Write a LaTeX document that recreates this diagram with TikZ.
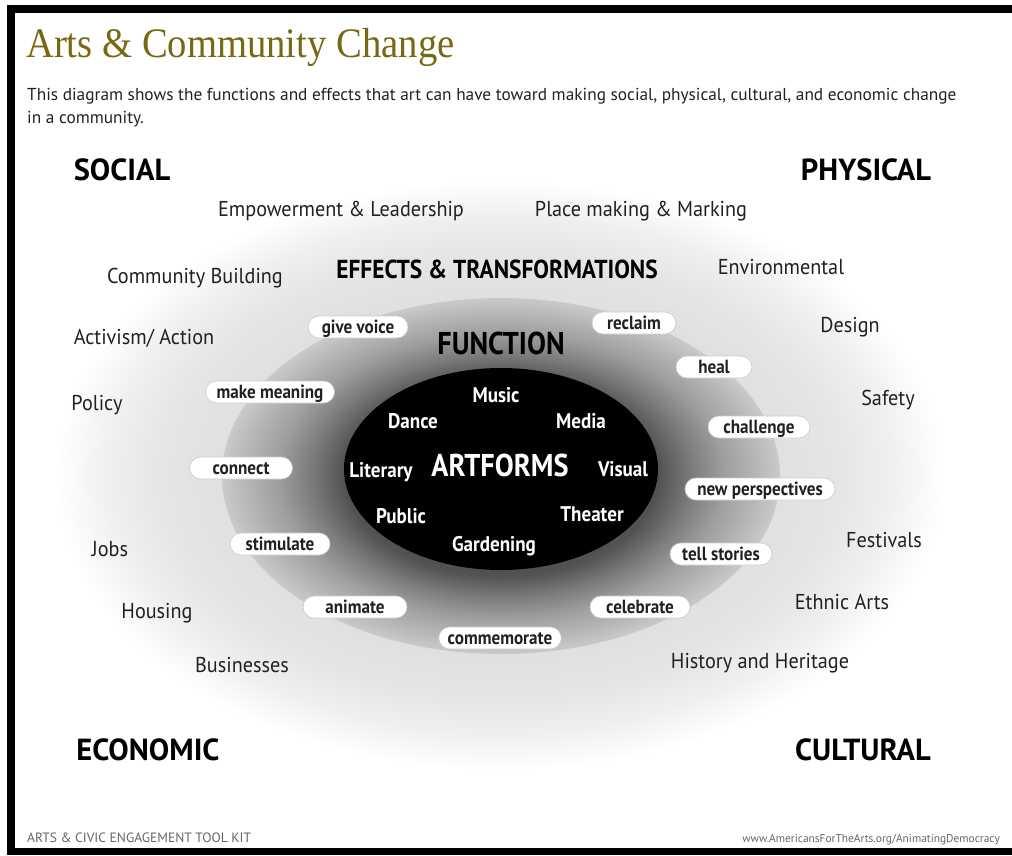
\documentclass[tikz,border=0pt]{standalone}
\usepackage{fontspec}
\setmainfont{PT Sans}
\newfontfamily\titlefont[FakeStretch=0.92]{Liberation Serif}
\newfontfamily\creg[FakeStretch=0.94]{PT Sans}
\newfontfamily\cbold[FakeStretch=0.9]{PT Sans}
\definecolor{titlecol}{RGB}{120,104,18}
\definecolor{txt}{gray}{0.13}
\definecolor{foot}{gray}{0.40}
\definecolor{pilledge}{gray}{0.80}
\definecolor{hA}{gray}{0.88}
\definecolor{hB}{gray}{0.90}
\definecolor{hC}{gray}{0.94}
\definecolor{rA}{gray}{0.30}
\definecolor{rB}{gray}{0.32}
\definecolor{rC}{gray}{0.48}
\definecolor{rD}{gray}{0.62}
\definecolor{rE}{gray}{0.72}
\definecolor{rF}{gray}{0.79}
\pgfdeclareradialshading{halo}{\pgfpointorigin}{color(0bp)=(hA); color(15.6bp)=(hA); color(19bp)=(hB); color(22bp)=(hC); color(25bp)=(white); color(50bp)=(white)}
\pgfdeclareradialshading{ring}{\pgfpointorigin}{color(0bp)=(rA); color(14bp)=(rB); color(17bp)=(rC); color(20bp)=(rD); color(23bp)=(rE); color(25bp)=(rF); color(50bp)=(rF)}
\tikzset{
  outeritem/.style={inner sep=0pt, text height=15pt, text depth=0pt, text=txt, font=\creg\fontsize{21.5}{21.5}\selectfont},
  cathead/.style={inner sep=0pt, text height=21.3pt, text depth=0pt, text=black, font=\bfseries\fontsize{30.5}{30.5}\selectfont},
  zonehead/.style={inner sep=0pt, text height=18.4pt, text depth=0pt, text=black, font=\cbold\bfseries\fontsize{26}{26}\selectfont},
  art/.style={inner sep=0pt, text height=14.8pt, text depth=0pt, text=white, font=\cbold\bfseries\fontsize{21.2}{21.2}\selectfont},
  pill/.style={fill=white, draw=pilledge, line width=0.7pt, rounded corners=11pt, minimum height=22pt, inner xsep=9pt, inner ysep=0pt,
    text height=13.3pt, text depth=0pt, text=txt, font=\cbold\bfseries\fontsize{19}{19}\selectfont},
  footer/.style={inner sep=0pt, text=foot}
}
\begin{document}
\begin{tikzpicture}[x=1pt,y=-1pt]
\useasboundingbox (0,0) rectangle (1012,855);
\fill[white] (0,0) rectangle (1012,855);
% gradient zones
\path[shading=halo] (500,475) ellipse [x radius=445pt, y radius=295pt];
\path[shading=ring] (501,476) ellipse [x radius=279pt, y radius=178pt];
\fill[black] (501,469) ellipse [x radius=157pt, y radius=101pt];
% frame
\fill[black] (7,5) rectangle (1012,13);
\fill[black] (7,5) rectangle (15,855);
\fill[black] (7,848) rectangle (1012,855);
% title and intro
\node[anchor=base west, inner sep=0pt, text=titlecol, font=\titlefont\fontsize{42}{42}\selectfont] (title) at (26,57) {Arts \& Community Change};
\node[anchor=base west, inner sep=0pt, text=txt, font=\fontsize{17.3}{17.3}\selectfont] (intro1) at (27,100) {This diagram shows the functions and effects that art can have toward making social, physical, cultural, and economic change};
\node[anchor=base west, inner sep=0pt, text=txt, font=\fontsize{17.3}{17.3}\selectfont] (intro2) at (27,123) {in a community.};
% category headings
\node[cathead] (social) at (122,170) {SOCIAL};
\node[cathead] (physical) at (866,170) {PHYSICAL};
\node[cathead] (economic) at (148,750) {ECONOMIC};
\node[cathead] (cultural) at (863,750) {CULTURAL};
% effects
\node[outeritem] (empower) at (341,209) {Empowerment \& Leadership};
\node[outeritem] (place) at (641,209) {Place making \& Marking};
\node[outeritem] (community) at (195,276) {Community Building};
\node[zonehead] (effects) at (497,269) {EFFECTS \& TRANSFORMATIONS};
\node[outeritem] (environ) at (781,267) {Environmental};
\node[outeritem] (activism) at (144,337) {Activism/ Action};
\node[outeritem] (design) at (850,325) {Design};
\node[outeritem] (policy) at (97,403) {Policy};
\node[outeritem] (safety) at (888,398) {Safety};
\node[outeritem] (jobs) at (110,549) {Jobs};
\node[outeritem] (festivals) at (884,540) {Festivals};
\node[outeritem] (housing) at (157,611) {Housing};
\node[outeritem] (ethnic) at (842,602) {Ethnic Arts};
\node[outeritem] (business) at (242,665) {Businesses};
\node[outeritem] (history) at (760,661) {History and Heritage};
% function
\node[zonehead, text height=22pt, font=\cbold\bfseries\fontsize{31.5}{31.5}\selectfont] (function) at (501,343) {FUNCTION};
\node[pill, minimum width=100pt] (givevoice) at (358,327) {give voice};
\node[pill, minimum width=84pt] (reclaim) at (634,323) {reclaim};
\node[pill, minimum width=76pt] (heal) at (714,367) {heal};
\node[pill, minimum width=129pt] (meaning) at (270,392) {make meaning};
\node[pill, minimum width=102pt] (challenge) at (759,427) {challenge};
\node[pill, minimum width=103pt] (connect) at (241,468) {connect};
\node[pill, minimum width=150pt] (newpersp) at (760,489) {new perspectives};
\node[pill, minimum width=100pt] (stimulate) at (280,544) {stimulate};
\node[pill, minimum width=102pt] (tellstories) at (721,554) {tell stories};
\node[pill, minimum width=104pt] (animate) at (355,607) {animate};
\node[pill, minimum width=100pt] (celebrate) at (640,607) {celebrate};
\node[pill, minimum width=120pt] (commemorate) at (500,638) {commemorate};
% artforms
\node[art, text height=22pt, font=\cbold\bfseries\fontsize{31.5}{31.5}\selectfont] (artforms) at (500,465) {ARTFORMS};
\node[art] (music) at (496,395) {Music};
\node[art] (dance) at (413,421) {Dance};
\node[art] (media) at (581,421) {Media};
\node[art] (literary) at (381,470) {Literary};
\node[art] (visual) at (623,469) {Visual};
\node[art] (public) at (401,516) {Public};
\node[art] (theater) at (592,514) {Theater};
\node[art] (gardening) at (494,544) {Gardening};
% footer
\node[footer, anchor=base west, font=\fontsize{13.5}{13.5}\selectfont] (toolkit) at (27,842) {ARTS \& CIVIC ENGAGEMENT TOOL KIT};
\node[footer, anchor=base east, font=\fontsize{11.4}{11.4}\selectfont] (url) at (1000,842) {www.AmericansForTheArts.org/AnimatingDemocracy};
\end{tikzpicture}
\end{document}
